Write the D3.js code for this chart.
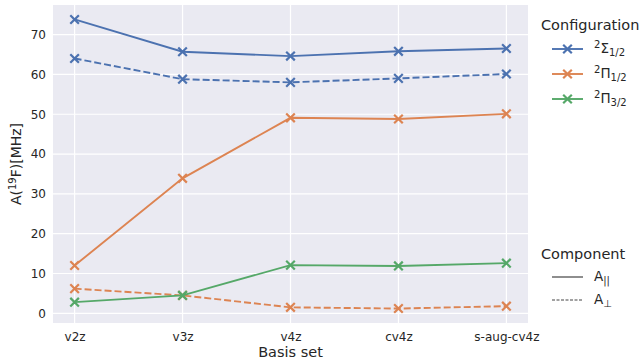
<!DOCTYPE html>
<html>
<head>
<meta charset="utf-8">
<script src="https://cdn.jsdelivr.net/npm/d3@7"></script>
<style>
  body { margin: 0; background: #fff; }
  svg { font-family: "DejaVu Sans", sans-serif; }
</style>
</head>
<body>
<div id="chart"></div>
<script>
// basis sets along x
var basisSets = ["v2z", "v3z", "v4z", "cv4z", "s-aug-cv4z"];

// hyperfine values, A(19F) in MHz
var sigmaPar  = [73.8, 65.7, 64.6, 65.8, 66.5];
var sigmaPerp = [64.0, 58.8, 58.0, 59.0, 60.1];
var pi12Par   = [12.0, 33.9, 49.1, 48.8, 50.1];
var pi12Perp  = [6.2, 4.5, 1.5, 1.2, 1.8];
var pi32Par   = [2.8, 4.5, 12.1, 11.9, 12.6];

var yTicks = [0, 10, 20, 30, 40, 50, 60, 70];

var series = [
    { values: sigmaPar,  color: "#4c72b0", dashed: false },
    { values: sigmaPerp, color: "#4c72b0", dashed: true },
    { values: pi12Par,   color: "#dd8452", dashed: false },
    { values: pi12Perp,  color: "#dd8452", dashed: true },
    { values: pi32Par,   color: "#55a868", dashed: false }
];

var width = 643, height = 360;
var margin = { top: 5, right: 115, bottom: 37, left: 53 };
var textColor = "#262626";

var svg = d3.select("#chart").append("svg")
    .attr("width", width)
    .attr("height", height);

var plotW = width - margin.left - margin.right;
var plotH = height - margin.top - margin.bottom;

var g = svg.append("g")
    .attr("transform", `translate(${margin.left},${margin.top})`);

// point scale with matplotlib-like 5% margins
var x = d3.scalePoint()
    .domain(basisSets)
    .range([plotW * 0.05 / 1.1, plotW - plotW * 0.05 / 1.1]);

var allVals = series.flatMap(s => s.values);
var yMin = d3.min(allVals), yMax = d3.max(allVals);
var pad = (yMax - yMin) * 0.05;
var y = d3.scaleLinear()
    .domain([yMin - pad, yMax + pad])
    .range([plotH, 0]);

// background
g.append("rect")
    .attr("width", plotW)
    .attr("height", plotH)
    .attr("fill", "#eaeaf2");

// grid
g.selectAll(".hgrid").data(yTicks).enter().append("line")
    .attr("x1", 0).attr("x2", plotW)
    .attr("y1", d => y(d)).attr("y2", d => y(d))
    .attr("stroke", "#fff").attr("stroke-width", 1.2);

g.selectAll(".vgrid").data(basisSets).enter().append("line")
    .attr("y1", 0).attr("y2", plotH)
    .attr("x1", d => x(d)).attr("x2", d => x(d))
    .attr("stroke", "#fff").attr("stroke-width", 1.2);

// axes (no tick marks, seaborn darkgrid style)
var yAxis = g.append("g")
    .call(d3.axisLeft(y).tickValues(yTicks).tickSize(0).tickPadding(7));
var xAxis = g.append("g")
    .attr("transform", `translate(0,${plotH})`)
    .call(d3.axisBottom(x).tickSize(0).tickPadding(9));

[xAxis, yAxis].forEach(a => {
    a.select(".domain").remove();
    a.selectAll("text")
        .style("font-size", "12px")
        .style("font-family", "DejaVu Sans")
        .attr("fill", textColor);
});

// lines
var line = d3.line()
    .x((d, i) => x(basisSets[i]))
    .y(d => y(d));

var markerSize = 4.3;

function drawX(sel, color) {
    sel.append("path")
        .attr("d", `M${-markerSize},${-markerSize}L${markerSize},${markerSize}M${-markerSize},${markerSize}L${markerSize},${-markerSize}`)
        .attr("stroke", color)
        .attr("stroke-width", 2.2)
        .attr("fill", "none");
}

series.forEach(s => {
    g.append("path")
        .datum(s.values)
        .attr("d", line)
        .attr("fill", "none")
        .attr("stroke", s.color)
        .attr("stroke-width", 1.9)
        .attr("stroke-dasharray", s.dashed ? "7,3" : null);

    g.selectAll(null).data(s.values).enter().append("g")
        .attr("transform", (d, i) => `translate(${x(basisSets[i])},${y(d)})`)
        .each(function () { drawX(d3.select(this), s.color); });
});

// axis labels
svg.append("text")
    .attr("x", margin.left + plotW / 2)
    .attr("y", 357)
    .attr("text-anchor", "middle")
    .style("font-size", "14.5px")
    .attr("fill", textColor)
    .text("Basis set");

var yl = svg.append("text")
    .attr("transform", `translate(21,${margin.top + plotH / 2}) rotate(-90)`)
    .attr("text-anchor", "middle")
    .style("font-size", "14px")
    .attr("fill", textColor);
yl.append("tspan").text("A(");
yl.append("tspan").attr("dy", -5).style("font-size", "10px").text("19");
yl.append("tspan").attr("dy", 5).text("F)[MHz]");

// legends
var lx = 552, lLen = 31, tx = 594;

function legendTitle(text, ty) {
    svg.append("text")
        .attr("x", 541).attr("y", ty)
        .style("font-size", "14.5px")
        .attr("fill", textColor)
        .text(text);
}

legendTitle("Configuration", 30);

var configs = [
    { color: "#4c72b0", sym: "Σ", sub: "1/2" },
    { color: "#dd8452", sym: "Π", sub: "1/2" },
    { color: "#55a868", sym: "Π", sub: "3/2" }
];
var configY = [49, 74, 99];

configs.forEach((c, i) => {
    var cy = configY[i];
    svg.append("line")
        .attr("x1", lx).attr("x2", lx + lLen)
        .attr("y1", cy).attr("y2", cy)
        .attr("stroke", c.color).attr("stroke-width", 1.9);
    var m = svg.append("g").attr("transform", `translate(${lx + lLen / 2},${cy})`);
    drawX(m, c.color);
    var t = svg.append("text")
        .attr("x", tx).attr("y", cy + 4)
        .style("font-size", "13.5px")
        .attr("fill", textColor);
    t.append("tspan").attr("dy", -5).style("font-size", "10px").text("2");
    t.append("tspan").attr("dy", 5).text(c.sym);
    t.append("tspan").attr("dy", 3).style("font-size", "10px").text(c.sub);
});

legendTitle("Component", 259);

var comps = [
    { dashed: false, sub: "||" },
    { dashed: true,  sub: "⊥" }
];
var compY = [277, 300];

comps.forEach((c, i) => {
    var cy = compY[i];
    svg.append("line")
        .attr("x1", lx).attr("x2", lx + lLen)
        .attr("y1", cy).attr("y2", cy)
        .attr("stroke", "#444").attr("stroke-width", 1.2)
        .attr("stroke-dasharray", c.dashed ? "3,1.5" : null);
    var t = svg.append("text")
        .attr("x", tx).attr("y", cy + 4)
        .style("font-size", "13.5px")
        .attr("fill", textColor);
    t.append("tspan").text("A");
    t.append("tspan").attr("dy", 3).style("font-size", "10px").text(c.sub);
});
</script>
</body>
</html>
